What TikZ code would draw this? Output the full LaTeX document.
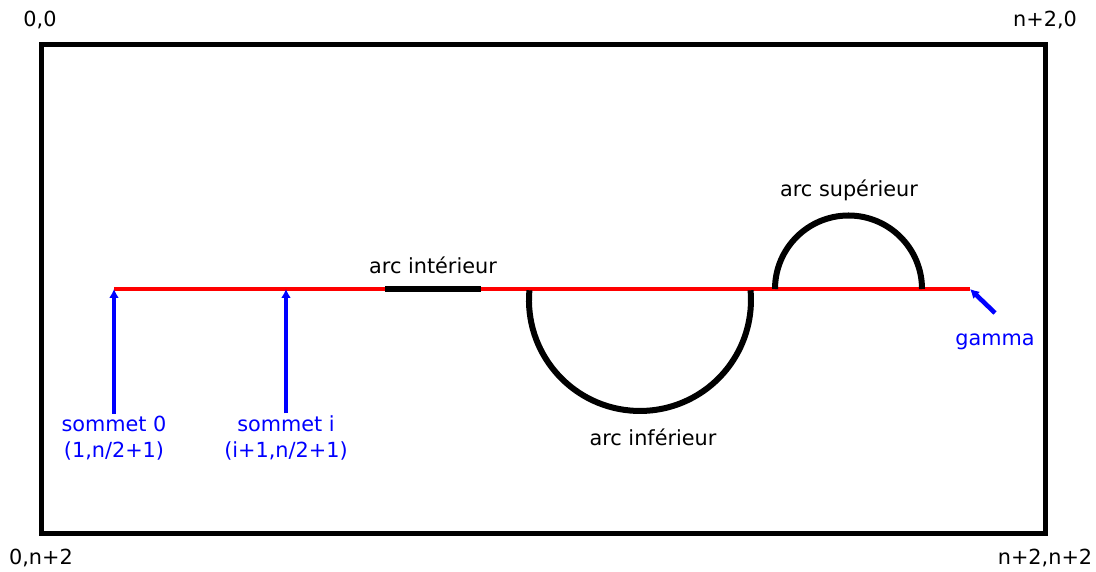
\documentclass[tikz,border=0pt]{standalone}
\usepackage{fontspec}
\setmainfont{DejaVu Sans}
\usetikzlibrary{arrows.meta}

\begin{document}
\begin{tikzpicture}[
    x=0.5pt, y=0.5pt,
    every node/.style={font=\fontsize{10.4}{13}\selectfont, inner sep=1pt},
    frame/.style={black, line width=2.5pt},
    gammaline/.style={red, line width=2pt},
    arcline/.style={black, line width=3pt},
    vertex/.style={blue, line width=2.3pt, -{Latex[length=4.5pt,width=5pt]}},
    lbl/.style={black},
    vlbl/.style={blue, align=center}
]
\useasboundingbox (0,0) rectangle (1096,572);

% =========================================================
% grid border and its corner labels
% =========================================================
\draw[frame] (41,38) rectangle (1045,527);
\node[lbl] (nw) at (40,552) {0,0};
\node[lbl] (ne) at (1045,552) {n+2,0};
\node[lbl] (sw) at (41,14) {0,n+2};
\node[lbl] (se) at (1045,14) {n+2,n+2};

% =========================================================
% the path gamma along row n/2+1
% =========================================================
\coordinate (g0) at (114,283);
\coordinate (gi) at (286,283);
\coordinate (gend) at (970,283);
\draw[gammaline] (g0) -- (gend);

% interior arc: a piece lying on the row
\coordinate (int0) at (385,283);
\coordinate (int1) at (481,283);
\draw[arcline] (int0) -- (int1);
\node[lbl] (intlbl) at (433,307) {arc intérieur};

% lower arc, hanging below the row
\coordinate (low0) at (529.4,281.7);
\draw[arcline] (low0) arc[start angle=175, end angle=365, radius=111];
\node[lbl] (lowlbl) at (653,135) {arc inférieur};

% upper arc, standing on the row
\coordinate (up0) at (922,283);
\draw[arcline] (up0) arc[start angle=0, end angle=180, radius=73.5];
\node[lbl] (uplbl) at (849,382) {arc supérieur};

% =========================================================
% vertices and the gamma pointer
% =========================================================
\node[vlbl] (s0) at (114,134) {sommet 0\\(1,n/2+1)};
\node[vlbl] (si) at (286,134) {sommet i\\(i+1,n/2+1)};
\draw[vertex] (s0.north) -- (g0);
\draw[vertex] (si.north) -- (gi);

\node[blue] (gamma) at (995,230) {gamma};
\coordinate (gtail) at (995,259);
\draw[vertex] (gtail) -- (gend);

\end{tikzpicture}
\end{document}
